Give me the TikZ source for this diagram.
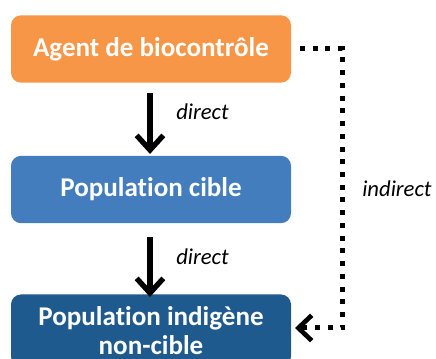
\documentclass[tikz,border=0pt]{standalone}
\usepackage{fontspec}
\setmainfont{Carlito}[Ligatures=NoCommon]
\usetikzlibrary{arrows.meta}
\definecolor{orangebox}{HTML}{F79646}
\definecolor{bluebox}{HTML}{437DBE}
\definecolor{darkbox}{HTML}{1F5A8F}
\tikzset{
  box/.style={rounded corners=7.5pt, minimum width=210pt, minimum height=50.5pt, text=white, font=\fontsize{20.3}{21.5}\selectfont\bfseries, align=center, inner sep=0pt},
  bigarrow/.style={line width=4pt, -{Straight Barb[length=11pt, width=20pt, line width=4pt]}},
  dotline/.style={line width=3.75pt, dash pattern=on 3.75pt off 5.8pt, -{Straight Barb[length=10pt, width=19pt, line width=3.5pt]}},
  lab/.style={font=\fontsize{17}{20}\selectfont\itshape, anchor=west, inner sep=0pt}
}
\begin{document}
\begin{tikzpicture}[x=0.75pt,y=-0.75pt]
\useasboundingbox (0,0) rectangle (436,359);
\clip (0,0) rectangle (436,359);
\node[box, fill=orangebox] (a) at (151,49) {Agent de biocontrôle};
\node[box, fill=bluebox] (b) at (151,189.5) {Population cible};
\node[box, fill=darkbox, minimum height=54pt] (c) at (151,330.5) {Population indigène\\non-cible};
\coordinate (a1) at (150,93);
\coordinate (b0) at (150,154);
\coordinate (b1) at (150,237);
\coordinate (c0) at (150,297);
\draw[bigarrow] (a1) -- (b0);
\draw[bigarrow] (b1) -- (c0);
\node[lab] (d1) at (176,112) {direct};
\node[lab] (d2) at (176,257) {direct};
\node[lab] (ind) at (362,189) {indirect};
\coordinate (s) at (300,49);
\coordinate (k1) at (342.5,49);
\coordinate (k2) at (342.5,328);
\coordinate (e) at (295,328);
\draw[dotline] (s) -- (k1) -- (k2) -- (e);
\end{tikzpicture}
\end{document}
